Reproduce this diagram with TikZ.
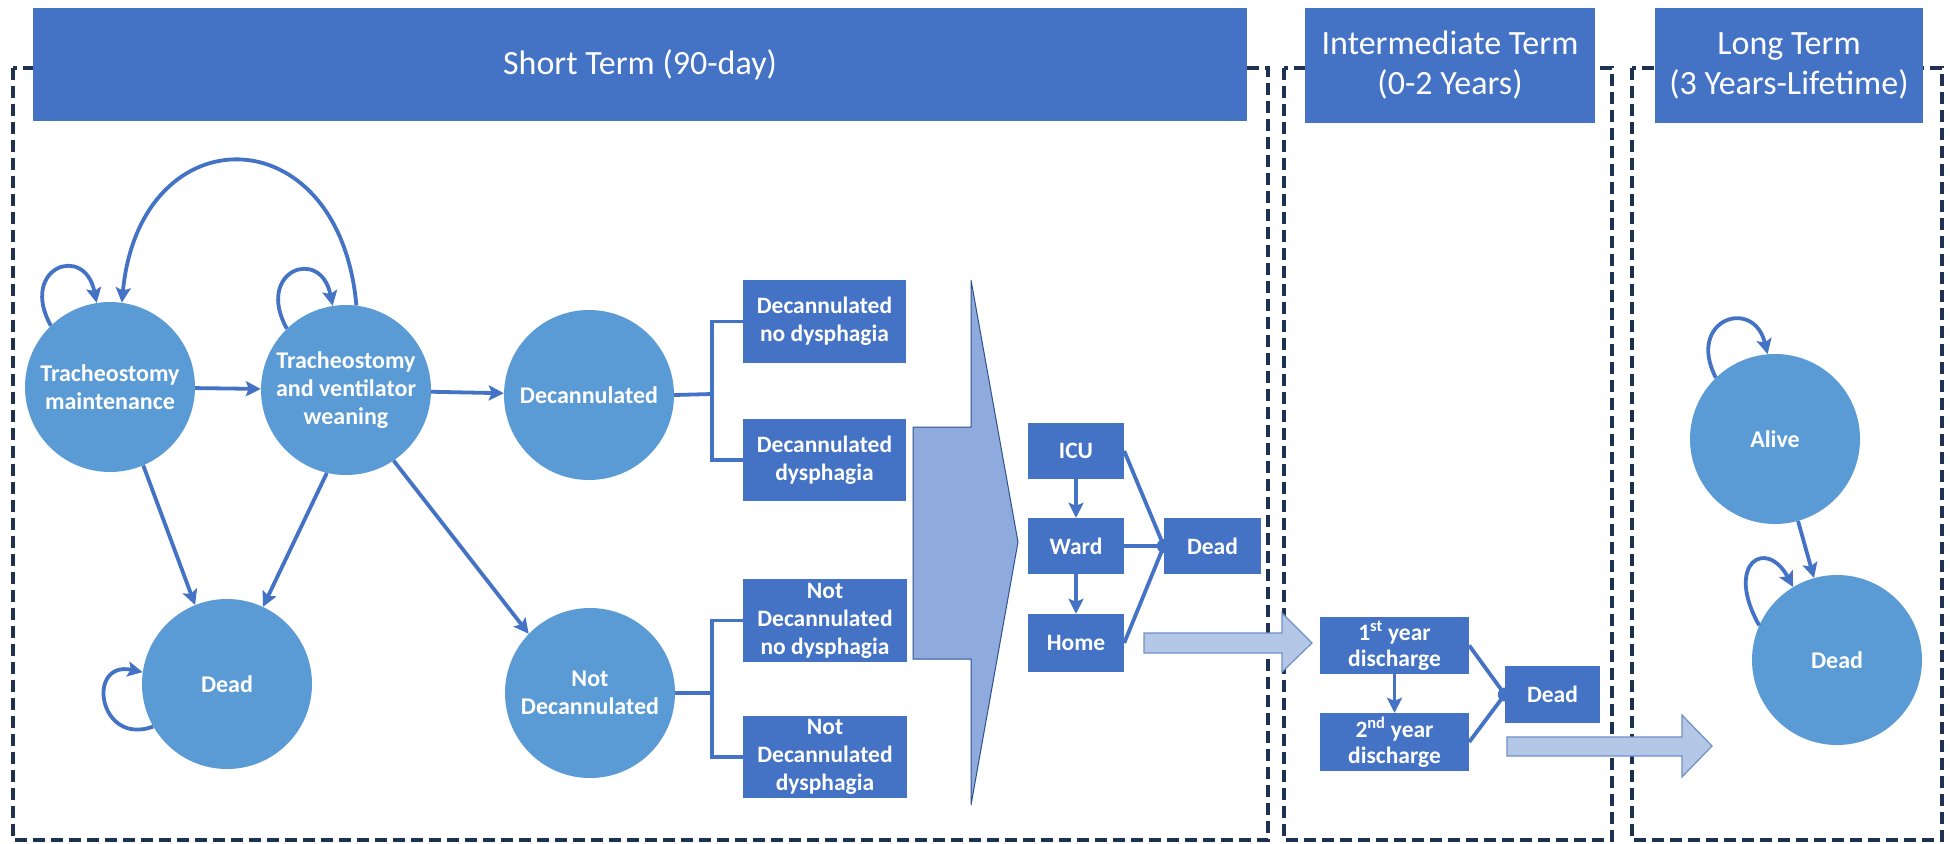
\documentclass[tikz,border=0pt]{standalone}
\usepackage{fontspec}
\setmainfont{Carlito}
\usetikzlibrary{arrows.meta,calc}
\definecolor{hdrblue}{HTML}{4472C4}
\definecolor{circblue}{HTML}{5B9BD5}
\definecolor{boxblue}{HTML}{4472C4}
\definecolor{linblue}{HTML}{4472C4}
\definecolor{navy}{HTML}{1F3150}
\definecolor{chevfill}{HTML}{8FAADC}
\definecolor{chevline}{HTML}{2F528F}
\definecolor{blkfill}{HTML}{B4C7E7}
\definecolor{blkline}{HTML}{6F8FC8}
\begin{document}
\begin{tikzpicture}[x=1pt,y=-1pt,
 state/.style={circle,fill=circblue,minimum size=170pt,inner sep=0pt,text=white,align=center,font=\bfseries\fontsize{24}{28}\selectfont},
 sbox/.style={rectangle,fill=boxblue,inner sep=0pt,text=white,align=center,font=\bfseries\fontsize{23.5}{28}\selectfont},
 hdr/.style={rectangle,fill=hdrblue,inner sep=0pt,text=white,align=center,font=\fontsize{34}{40}\selectfont},
 conn/.style={draw=linblue,line width=3.8pt,-{Stealth[length=15pt,width=15pt,inset=3pt]}},
 plainline/.style={draw=linblue,line width=3.8pt,line join=miter},
 phase/.style={draw=navy,line width=4pt,dash pattern=on 12pt off 6pt},
 bigarrow/.style={fill=chevfill,draw=chevline,line width=1pt},
 blockarrow/.style={fill=blkfill,draw=blkline,line width=1.2pt}]
\useasboundingbox (0,0) rectangle (1950,843);
\fill[white] (0,0) rectangle (1950,843);

% phase frames
\draw[phase] (13,68) rectangle (1268,840);
\draw[phase] (1284,68) rectangle (1612,840);
\draw[phase] (1632,68) rectangle (1942,840);

% headers
\node[hdr,minimum width=1214pt,minimum height=113pt] (hS) at (640,64.5) {Short Term (90-day)};
\node[hdr,minimum width=290pt,minimum height=115pt] (hI) at (1450,65.5) {Intermediate Term\\(0-2 Years)};
\node[hdr,minimum width=268pt,minimum height=115pt] (hL) at (1789,65.5) {Long Term\\(3 Years-Lifetime)};

% big chevron arrow
\draw[bigarrow] (913,427) -- (971,427) -- (971,280) -- (1018,542) -- (971,805) -- (971,659) -- (913,659) -- cycle;
% block arrows
\draw[blockarrow] (1144,633) -- (1282,633) -- (1282,613) -- (1312,643) -- (1282,672) -- (1282,653) -- (1144,653) -- cycle;
\draw[blockarrow] (1507,737) -- (1682,737) -- (1682,715) -- (1712,746) -- (1682,777) -- (1682,756) -- (1507,756) -- cycle;

% short-term states
\node[state] (TM) at (110,387) {Tracheostomy\\maintenance};
\node[state] (TVW) at (346,390) {Tracheostomy\\and ventilator\\weaning};
\node[state] (Dec) at (589,395) {Decannulated};
\node[state] (SDead) at (227,684) {Dead};
\node[state] (ND) at (590,693) {Not\\Decannulated};

\node[sbox,minimum width=163pt,minimum height=83pt] (DND) at (824.5,321.5) {Decannulated\\no dysphagia};
\node[sbox,minimum width=163pt,minimum height=82pt] (DD) at (824.5,460) {Decannulated\\dysphagia};
\node[sbox,minimum width=164pt,minimum height=83pt] (NDND) at (825,620.5) {Not\\Decannulated\\no dysphagia};
\node[sbox,minimum width=164pt,minimum height=82pt] (NDD) at (825,757) {Not\\Decannulated\\dysphagia};

\node[sbox,minimum width=96pt,minimum height=56pt] (ICU) at (1076,451) {ICU};
\node[sbox,minimum width=96pt,minimum height=56pt] (Ward) at (1076,546) {Ward};
\node[sbox,minimum width=96pt,minimum height=58pt] (Home) at (1076,643) {Home};
\node[sbox,minimum width=97pt,minimum height=56pt] (HDead) at (1212.5,546) {Dead};

% intermediate
\node[sbox,minimum width=149pt,minimum height=57pt] (Y1) at (1394.5,645.5) {1\textsuperscript{st} year\\[-2pt]discharge};
\node[sbox,minimum width=149pt,minimum height=58pt] (Y2) at (1394.5,742) {2\textsuperscript{nd} year\\[-2pt]discharge};
\node[sbox,minimum width=95pt,minimum height=57pt] (IDead) at (1552.5,694.5) {Dead};

% long term
\node[state] (Alive) at (1775,439) {Alive};
\node[state] (LDead) at (1837,660) {Dead};

% short-term connectors
\draw[conn] (TM) -- (TVW);
\draw[conn] (TVW) -- (Dec);
\draw[conn] (TM.-67) -- (SDead.112);
\draw[conn] (TVW.-103) -- (SDead.65);
\draw[conn] (TVW.-56) -- (ND.136);
\draw[conn] (TVW.83) .. controls +(-17,-192) and +(18,-190) .. (TM.82);
\draw[conn] (TM.134) .. controls +(-32,-58) and +(-12,-60) .. (TM.99);
\draw[conn] (TVW.134) .. controls +(-32,-58) and +(-12,-60) .. (TVW.99);
\draw[conn] (SDead.210) .. controls +(-55,20) and +(-57,-12) .. (SDead.172);

% brackets
\coordinate (bk1) at (712,394);
\coordinate (bk2) at (712,693);
\draw[plainline] (Dec.east) -- (bk1);
\draw[plainline] (DND.west) -| (bk1) |- (DD.west);
\draw[plainline] (ND.east) -- (bk2);
\draw[plainline] (NDND.west) -| (bk2) |- (NDD.west);

% hospital
\draw[conn] (ICU) -- (Ward);
\draw[conn] (Ward) -- (Home);
\draw[plainline] (ICU.east) -- (HDead.west);
\draw[plainline] (Ward.east) -- (HDead.west);
\draw[plainline] (Home.east) -- (HDead.west);
\fill[linblue] (HDead.west) circle (7pt);

% intermediate connectors
\draw[conn] (Y1) -- (Y2);
\draw[plainline] (Y1.east) -- (IDead.west);
\draw[plainline] (Y2.east) -- (IDead.west);
\fill[linblue] (IDead.west) circle (7pt);

% long term connectors
\draw[conn] (Alive) -- (LDead);
\draw[conn] (Alive.134) .. controls +(-30,-58) and +(-14,-58) .. (Alive.95);
\draw[conn] (LDead.156) .. controls +(-35,-62) and +(-27,-50) .. (LDead.121);
\end{tikzpicture}
\end{document}
